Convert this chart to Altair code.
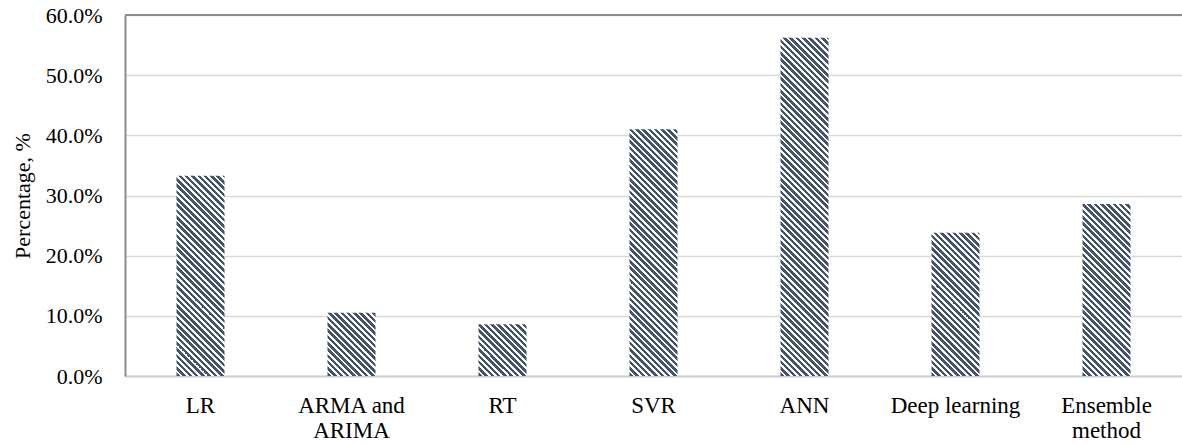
import altair as alt
import pandas as pd

# Share of studies using each forecasting method
methods = ["LR", "ARMA and ARIMA", "RT", "SVR", "ANN", "Deep learning", "Ensemble method"]
shares = [33.3, 10.5, 8.6, 41.0, 56.2, 23.8, 28.6]
y_ticks = [0.0, 0.1, 0.2, 0.3, 0.4, 0.5, 0.6]

df = pd.DataFrame({"method": methods, "share": [s / 100 for s in shares]})

PLOT_W, PLOT_H = 1057, 361
Y_MAX = 0.6
BAR_W = 48
NAVY = "#44546a"
FONT = "Liberation Serif"


def hatch_fill(value, period=6.3, dark=0.56):
    """Diagonal '\\' hatching built from a linear gradient with hard stops."""
    h = value / Y_MAX * PLOT_H
    w = BAR_W
    span = w + h
    k = span / (w * w + h * h)
    stops = []
    i = 0
    while i * period < span:
        a = i * period / span
        b = min((i + dark) * period / span, 1.0)
        c = min((i + 1) * period / span, 1.0)
        stops += [
            {"offset": a, "color": NAVY},
            {"offset": b, "color": NAVY},
            {"offset": b, "color": "#ffffff"},
            {"offset": c, "color": "#ffffff"},
        ]
        i += 1
    return {
        "gradient": "linear",
        "x1": 0, "y1": 1,
        "x2": k * w, "y2": 1 - k * h,
        "stops": stops,
    }


label_expr = (
    "datum.value == 'ARMA and ARIMA' ? ['ARMA and', 'ARIMA'] : "
    "datum.value == 'Ensemble method' ? ['Ensemble', 'method'] : datum.value"
)

x_enc = alt.X(
    "method:N",
    sort=methods,
    scale=alt.Scale(domain=methods, paddingInner=0.68, paddingOuter=0.34),
    axis=alt.Axis(
        title=None, labelAngle=0, ticks=False, labelPadding=18,
        labelExpr=label_expr, labelFont=FONT, labelFontSize=23,
        labelColor="#000000", labelLineHeight=25,
        domainColor="#cfcfcf", domainWidth=2, grid=False,
    ),
)
y_enc = alt.Y(
    "share:Q",
    scale=alt.Scale(domain=[0, Y_MAX], nice=False),
    axis=alt.Axis(
        values=y_ticks, format=".1%", title="Percentage, %",
        ticks=False, labelPadding=23, labelFont=FONT, labelFontSize=22,
        labelColor="#000000", titleFont=FONT, titleFontSize=22,
        titleFontWeight="normal", titleColor="#000000",
        titleX=-103, titleY=PLOT_H / 2, titleAngle=-90,
        titleAlign="center", titleBaseline="middle",
        domainColor="#8c8c8c", domainWidth=2,
        gridColor="#d9d9d9", gridWidth=1.5,
    ),
)

layers = []
for m, s in zip(methods, shares):
    layers.append(
        alt.Chart(df)
        .transform_filter(alt.datum.method == m)
        .mark_bar(size=BAR_W, fill=hatch_fill(s / 100), stroke=None)
        .encode(x=x_enc, y=y_enc)
    )

top_line = (
    alt.Chart(pd.DataFrame({"top": [Y_MAX]}))
    .mark_rule(color="#8c8c8c", strokeWidth=2)
    .encode(y=alt.Y("top:Q", scale=alt.Scale(domain=[0, Y_MAX], nice=False)))
)

chart = (
    alt.layer(*layers, top_line)
    .properties(
        width=PLOT_W, height=PLOT_H,
        autosize=alt.AutoSizeParams(type="none"),
        padding={"left": 125, "top": 15, "right": 0, "bottom": 68},
    )
    .configure_view(stroke=None)
    .configure(background="#ffffff")
)

chart.save("out.html", embed_options={"renderer": "svg", "actions": False})
